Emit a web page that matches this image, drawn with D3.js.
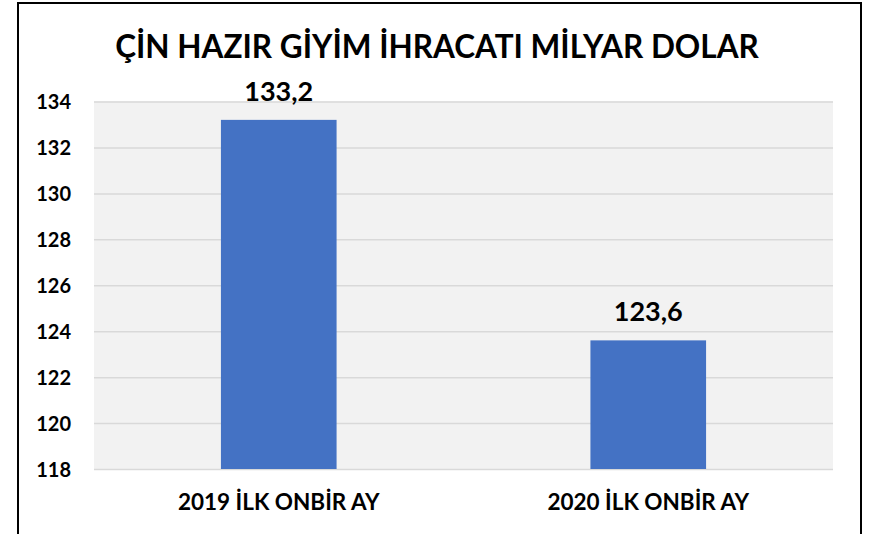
<!DOCTYPE html>
<html>
<head>
<meta charset="utf-8">
<script src="https://cdn.jsdelivr.net/npm/d3@7"></script>
<style>
  body { margin: 0; background: #fff; }
  text { font-family: Lato, "Open Sans", sans-serif; font-weight: bold; fill: #000; }
</style>
</head>
<body>
<div id="chart"></div>
<script>
const titleText = 'ÇİN HAZIR GİYİM İHRACATI MİLYAR DOLAR';
const categories = ['2019 İLK ONBİR AY', '2020 İLK ONBİR AY'];
const values = [133.2, 123.6];
const yTicks = [118, 120, 122, 124, 126, 128, 130, 132, 134];

const width = 871, height = 534;
const margin = {top: 101.5, right: 38, bottom: 65, left: 94};
const contentWidth = width - margin.left - margin.right;
const contentHeight = height - margin.top - margin.bottom;

const svg = d3.select('#chart').append('svg')
  .attr('width', width)
  .attr('height', height);

// outer frame
svg.append('rect')
  .attr('x', 18).attr('y', 3)
  .attr('width', 843).attr('height', 533)
  .attr('fill', 'none')
  .attr('stroke', '#000')
  .attr('stroke-width', 2);

svg.append('text')
  .attr('x', 437)
  .attr('y', 58)
  .attr('text-anchor', 'middle')
  .style('font-size', '31.5px')
  .text(titleText);

const x = d3.scaleBand()
  .range([0, contentWidth])
  .domain(categories)
  .paddingInner(0.687)
  .paddingOuter(0.3435);

const y = d3.scaleLinear()
  .range([contentHeight, 0])
  .domain([118, 134]);

const g = svg.append('g')
  .attr('transform', 'translate(' + margin.left + ',' + margin.top + ')');

g.append('rect')
  .attr('width', contentWidth)
  .attr('height', contentHeight)
  .attr('fill', '#f2f2f2');

// gridlines
g.append('g')
  .attr('class', 'grid')
  .call(d3.axisLeft(y).tickValues(yTicks).tickSize(-contentWidth).tickFormat(''))
  .call(s => s.select('.domain').remove())
  .call(s => s.selectAll('line').attr('stroke', '#d9d9d9').attr('stroke-width', 1.5));

// y axis labels
g.append('g')
  .attr('class', 'axis axis--y')
  .call(d3.axisLeft(y).tickValues(yTicks).tickSize(0).tickPadding(23))
  .call(s => s.select('.domain').remove())
  .call(s => s.selectAll('text').style('font-size', '20px').attr('dy', '0.35em'));

g.selectAll('.bar')
  .data(values)
  .enter().append('rect')
    .attr('class', 'bar')
    .attr('x', (d, i) => x(categories[i]))
    .attr('y', d => y(d))
    .attr('width', x.bandwidth())
    .attr('height', d => contentHeight - y(d))
    .attr('fill', '#4472c4');

g.selectAll('.label')
  .data(values)
  .enter().append('text')
    .attr('class', 'label')
    .attr('x', (d, i) => x(categories[i]) + x.bandwidth() / 2)
    .attr('y', d => y(d) - 19)
    .attr('text-anchor', 'middle')
    .style('font-size', '27px')
    .text(d => d.toFixed(1).replace('.', ','));

// x axis labels
g.append('g')
  .attr('class', 'axis axis--x')
  .attr('transform', 'translate(0,' + contentHeight + ')')
  .call(d3.axisBottom(x).tickSize(0).tickPadding(0))
  .call(s => s.select('.domain').remove())
  .call(s => s.selectAll('text').style('font-size', '22.5px').attr('dy', null).attr('y', 41));
</script>
</body>
</html>
